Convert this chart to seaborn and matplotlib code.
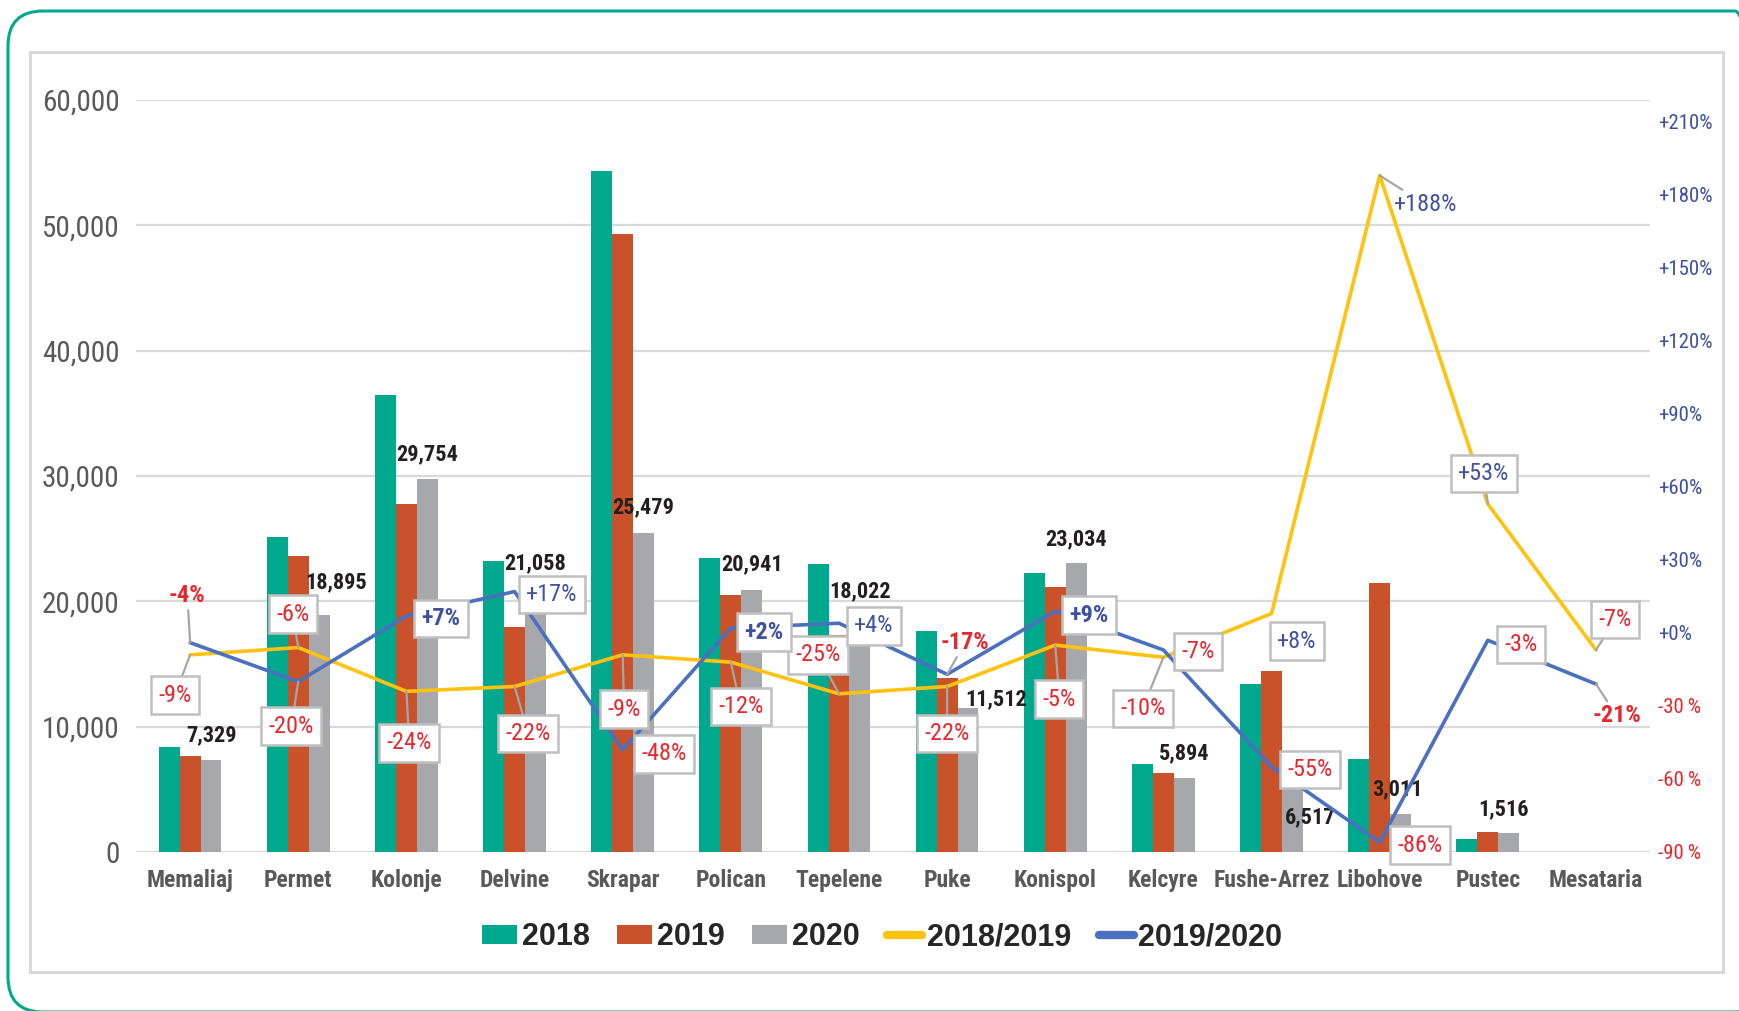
import numpy as np
import pandas as pd
import matplotlib
matplotlib.use('Agg')
import matplotlib.pyplot as plt
import matplotlib.font_manager as fm
from matplotlib.patches import FancyBboxPatch, Rectangle, Patch
from matplotlib.lines import Line2D
from matplotlib.transforms import IdentityTransform
import seaborn as sns

# Data
towns = ['Memaliaj', 'Permet', 'Kolonje', 'Delvine', 'Skrapar', 'Polican', 'Tepelene',
         'Puke', 'Konispol', 'Kelcyre', 'Fushe-Arrez', 'Libohove', 'Pustec', 'Mesataria']
years = ['2018', '2019', '2020']
v2018 = [8350, 25130, 36500, 23200, 54300, 23450, 22950, 17650, 22270, 7020, 13430, 7420, 1000, 0]
v2019 = [7620, 23620, 27800, 17980, 49300, 20530, 17330, 13880, 21180, 6320, 14460, 21500, 1560, 0]
v2020 = [7329, 18895, 29754, 21058, 25479, 20941, 18022, 11512, 23034, 5894, 6517, 3011, 1516, 0]
pct_18_19 = [-9, -6, -24, -22, -9, -12, -25, -22, -5, -10, 8, 188, 53, -7]
pct_19_20 = [-4, -20, 7, 17, -48, 2, 4, -17, 9, -7, -55, -86, -3, -21]

# Layout of the labels (offsets in points)
val_offsets = [(0, 18), (12, 24), (0, 18), (0, 18), (0, 18), (0, 18), (0, 25),
               (20, 6), (0, 17), (0, 18), (13, -34), (-2, 18), (-4, 17), None]
yellow_offsets = [(-11, -29), (-4, 24), (2, -37), (10, -34), (1, -39), (7, -32), (-15, 28),
                  (0, -34), (3, -39), (-15, -37), (18, -20), (33, -21), (-3, 22), (14, 22)]
blue_offsets = [(-2, 34), (-5, -32), (25, -2), (27, -2), (30, -3), (24, -3), (25, -2),
                (13, 23), (24, -3), (25, -1), (28, -2), (29, -2), (24, -3), (15, -23)]
yellow_unboxed = {11}
blue_unboxed = {0, 7, 13}
blue_bold = {0, 2, 5, 7, 8, 13}
yellow_noleader = {10}
blue_leader = {0, 1, 7, 13}

bar_colors = ['#00A88E', '#C9522A', '#A7A8AB']
yellow = '#FFC20E'
blue = '#4A70BF'
red_txt = '#E8262E'
blue_txt = '#3F51A2'
grey_txt = '#595959'

sns.set_style("white")

# pick a condensed face if one is installed
entries = fm.fontManager.ttflist
names = {f.name for f in entries}
narrow, stretch, k = 'Liberation Sans', 'normal', 0.86
if 'Liberation Sans Narrow' in names:
    narrow, k = 'Liberation Sans Narrow', 1.0
elif 'Roboto Condensed' in names:
    narrow, k = 'Roboto Condensed', 1.0
else:
    for fam in ['Noto Sans', 'DejaVu Sans', 'Open Sans']:
        if any(f.name == fam and str(f.stretch) in ('condensed', 'semi-condensed', '75', '87.5')
               for f in entries):
            narrow, stretch, k = fam, 'condensed', 1.0
            break
plt.rcParams['font.family'] = [narrow, 'DejaVu Sans']
plt.rcParams['font.stretch'] = stretch

df = pd.DataFrame({
    'town': towns * 3,
    'year': [y for y in years for _ in towns],
    'visitors': v2018 + v2019 + v2020,
})

fig = plt.figure(figsize=(17.4, 10.11), dpi=100)

# frame decorations
fig.add_artist(FancyBboxPatch((8, -1), 1762, 1001, boxstyle='round,pad=0,rounding_size=35',
                              transform=IdentityTransform(), fill=False,
                              edgecolor='#00A88E', lw=2.2))
fig.add_artist(Rectangle((30, 39), 1693, 920, transform=IdentityTransform(), fill=False,
                         edgecolor='#D9D9D9', lw=2.2))

ax = fig.add_axes([0.0782, 0.1573, 0.8701, 0.7438])
sns.barplot(data=df, x='town', y='visitors', hue='year', palette=bar_colors,
            width=0.58, gap=0, saturation=1, errorbar=None, legend=False,
            linewidth=0, ax=ax)
ax.set_ylim(0, 60000)
ax.set_yticks(range(0, 60001, 10000))
ax.set_yticklabels([f'{v:,}' for v in range(0, 60001, 10000)], fontsize=21 * k, color=grey_txt)
ax.yaxis.grid(True, color='#D9D9D9', lw=1.6)
ax.set_axisbelow(True)
ax.set_xlabel('')
ax.set_ylabel('')
for s in ax.spines.values():
    s.set_visible(False)
ax.tick_params(axis='y', length=0, pad=12)
ax.tick_params(axis='x', length=0, pad=12)
for lab in ax.get_xticklabels():
    lab.set_fontsize(17 * k)
    lab.set_fontweight('bold')
    lab.set_color(grey_txt)

# 2020 value labels
for bar, v, off in zip(ax.containers[2], v2020, val_offsets):
    if off is None:
        continue
    ax.annotate(f'{v:,}', (bar.get_x() + bar.get_width() / 2, bar.get_height()),
                textcoords='offset points', xytext=off, ha='center', va='center',
                fontsize=16 * k, fontweight='bold', color='#231F20')

# growth lines
ax2 = ax.twinx()
idx = np.arange(len(towns))
sns.lineplot(x=idx, y=pct_18_19, ax=ax2, color=yellow, lw=2.6, sort=False)
sns.lineplot(x=idx, y=pct_19_20, ax=ax2, color=blue, lw=2.6, sort=False)
ax.set_xlim(-0.5, len(towns) - 0.5)
ax2.set_ylim(-90, 219)
rticks = list(range(-90, 211, 30))
ax2.set_yticks(rticks)
ax2.set_yticklabels([f'+{t}%' if t >= 0 else f'{t}\u2009%' for t in rticks], fontsize=15 * k)
for lab, t in zip(ax2.get_yticklabels(), rticks):
    lab.set_color(blue_txt if t >= 0 else red_txt)
ax2.tick_params(axis='y', length=0, pad=6)
for s in ax2.spines.values():
    s.set_visible(False)
ax2.set_ylabel('')


def pct_label(i, p, off, boxed, bold, leader):
    color = blue_txt if p > 0 else red_txt
    txt = f'+{p}%' if p > 0 else f'{p}%'
    kw = dict(textcoords='offset points', xytext=off, ha='center', va='center',
              fontsize=17.5 * k, color=color, fontweight='bold' if bold else 'normal',
              annotation_clip=False, zorder=5)
    if boxed:
        kw['bbox'] = dict(boxstyle='square,pad=0.3', fc='white', ec='#BFBFBF', lw=1.8)
    if leader:
        kw['arrowprops'] = dict(arrowstyle='-', color='#A6A6A6', lw=1.6, shrinkA=0, shrinkB=0)
    ax2.annotate(txt, (i, p), **kw)


for i, (p, off) in enumerate(zip(pct_18_19, yellow_offsets)):
    pct_label(i, p, off, i not in yellow_unboxed, False, i not in yellow_noleader)
for i, (p, off) in enumerate(zip(pct_19_20, blue_offsets)):
    pct_label(i, p, off, i not in blue_unboxed, i in blue_bold, i in blue_leader)

# legend
handles = [Patch(facecolor=c, edgecolor='none') for c in bar_colors]
handles += [Line2D([], [], color=yellow, lw=6, solid_capstyle='round'),
            Line2D([], [], color=blue, lw=6, solid_capstyle='round')]
fig.legend(handles, years + ['2018/2019', '2019/2020'], loc='center',
           bbox_to_anchor=(0.507, 0.073), ncol=5, frameon=False,
           prop={'family': ['Liberation Sans', 'DejaVu Sans'], 'stretch': 'normal',
                 'weight': 'bold', 'size': 22},
           handlelength=1.15, handleheight=0.6, handletextpad=0.15, columnspacing=0.9)

fig.savefig('out.png', dpi=100)
